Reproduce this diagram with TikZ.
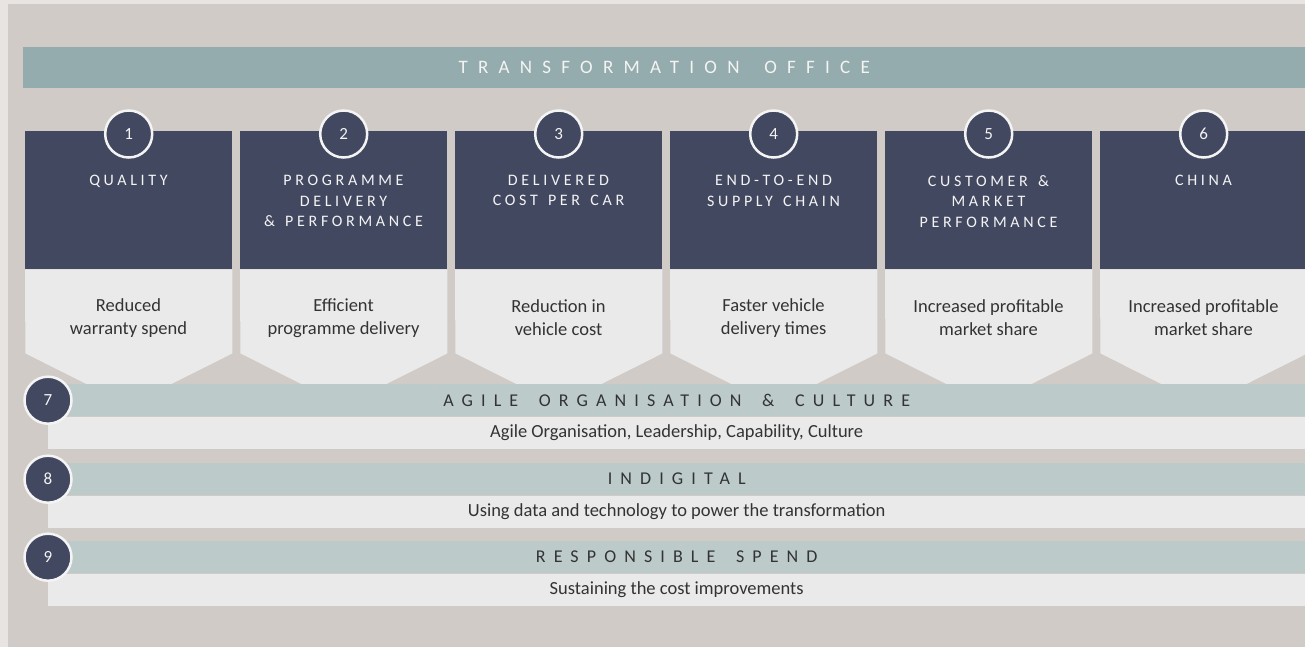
\documentclass[tikz,border=0pt]{standalone}
\usepackage{fontspec}
\setmainfont{Carlito}
\newfontfamily\officefont{Carlito}[LetterSpace=54,WordSpace=1.7]
\newfontfamily\headfont{Carlito}[LetterSpace=23,WordSpace=1.4]
\newfontfamily\bandfont{Carlito}[LetterSpace=45,WordSpace=1.7]
\usepackage{tikz}
\usetikzlibrary{positioning}

\definecolor{edgegrey}{HTML}{E7E4E1}
\definecolor{panelgrey}{HTML}{D0CBC6}
\definecolor{officeteal}{HTML}{94ACAD}
\definecolor{bandteal}{HTML}{BCCACA}
\definecolor{slate}{HTML}{424860}
\definecolor{paper}{HTML}{EAEAEA}
\definecolor{ink}{HTML}{333333}
\definecolor{chalk}{HTML}{F4F4F4}

\tikzset{
  office/.style={fill=officeteal, minimum width=1282pt, minimum height=41pt, inner sep=0pt,
    text=chalk, font=\officefont\fontsize{19}{22}\selectfont},
  pillar/.style={fill=slate, minimum width=207pt, minimum height=138pt, inner sep=0pt},
  badge/.style={circle, fill=slate, draw=chalk, line width=2.5pt, minimum size=47pt, inner sep=0pt,
    text=chalk, font=\fontsize{17}{19}\selectfont},
  headtext/.style={align=center, inner sep=0pt, text=chalk,
    font=\headfont\fontsize{16}{20.5}\selectfont},
  gaintext/.style={align=center, inner sep=0pt, text=ink, font=\fontsize{18.5}{23}\selectfont},
  band/.style={fill=bandteal, minimum width=1257pt, minimum height=32pt, inner sep=0pt,
    text=ink, font=\bandfont\fontsize{18}{21}\selectfont},
  strip/.style={fill=paper, minimum width=1257pt, minimum height=32pt, inner sep=0pt,
    text=ink, font=\fontsize{18.5}{21}\selectfont}
}

\begin{document}
\begin{tikzpicture}[x=1pt,y=-1pt]
\useasboundingbox (0,0) rectangle (1305,647);
\fill[edgegrey] (0,0) rectangle (1305,647);
\fill[panelgrey] (8,4) rectangle (1305,647);

\node[office, anchor=north west] (office) at (23,47) {TRANSFORMATION OFFICE};

\foreach \n/\head/\gain in {
  1/{QUALITY}/{Reduced\\warranty spend},
  2/{PROGRAMME\\DELIVERY\\\& PERFORMANCE}/{Efficient\\programme delivery},
  3/{DELIVERED\\COST PER CAR}/{Reduction in\\vehicle cost},
  4/{END-TO-END\\SUPPLY CHAIN}/{Faster vehicle\\delivery times},
  5/{CUSTOMER \&\\MARKET\\PERFORMANCE}/{Increased profitable\\market share},
  6/{CHINA}/{Increased profitable\\market share}}
{
  \pgfmathsetmacro\x{25+(\n-1)*215}
  \node[pillar, anchor=north west] (pillar\n) at (\x,131) {};
  \fill[paper] (pillar\n.south west) -- (pillar\n.south east) -- ++(0,84)
    -- ++(-103.5,52) -- ++(-103.5,-52) -- cycle;
  \node[badge] (num\n) at ([yshift=-3pt]pillar\n.north) {\n};
  \node[headtext, anchor=north] (head\n) at (\x+103.5,175) {\head};
  \node[gaintext] (gain\n) at (\x+103.5,318) {\gain};
}

\foreach \n/\y/\head/\line in {
  7/384/{AGILE ORGANISATION \& CULTURE}/{Agile Organisation, Leadership, Capability, Culture},
  8/463/{INDIGITAL}/{Using data and technology to power the transformation},
  9/541/{RESPONSIBLE SPEND}/{Sustaining the cost improvements}}
{
  \node[band, anchor=north west] (band\n) at (48,\y) {\head};
  \node[strip, below=0pt of band\n] (strip\n) {\line};
  \node[badge] (num\n) at (band\n.west) {\n};
}
\end{tikzpicture}
\end{document}
